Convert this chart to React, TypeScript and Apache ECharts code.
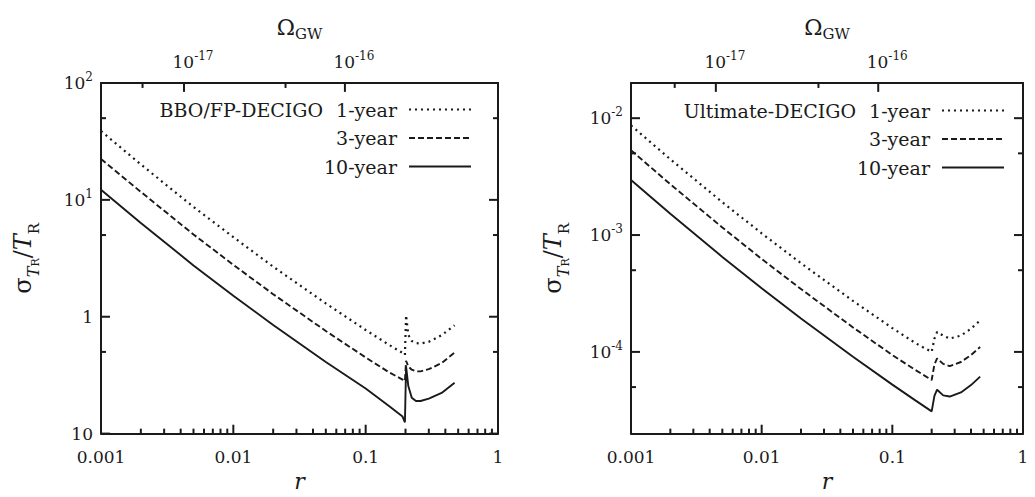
import React, { useEffect, useRef } from "react";
import * as echarts from "echarts";

// ---------- data ----------
const yearNames = ["1-year", "3-year", "10-year"];

// Left panel: BBO/FP-DECIGO
const rLeft = [0.001, 0.002, 0.005, 0.01, 0.02, 0.05, 0.1, 0.15, 0.19, 0.198, 0.202, 0.21, 0.223, 0.24, 0.26, 0.3, 0.375, 0.47];
const bbo1yr = [38.8, 20.1, 8.7, 4.8, 2.68, 1.3, 0.77, 0.575, 0.49, 0.47, 1.03, 0.7, 0.62, 0.595, 0.59, 0.61, 0.695, 0.845];
const bbo3yr = [22.4, 11.7, 5.06, 2.78, 1.56, 0.755, 0.448, 0.335, 0.29, 0.281, 0.42, 0.376, 0.352, 0.341, 0.341, 0.356, 0.401, 0.493];
const bbo10yr = [12.2, 6.35, 2.75, 1.51, 0.85, 0.41, 0.243, 0.172, 0.14, 0.125, 0.376, 0.255, 0.203, 0.19, 0.19, 0.199, 0.223, 0.272];

// Right panel: Ultimate-DECIGO
const rRight = [0.001, 0.002, 0.005, 0.01, 0.02, 0.05, 0.1, 0.15, 0.2, 0.21, 0.22, 0.245, 0.275, 0.335, 0.4, 0.47];
const ult1yr = [8.67e-3, 4.45e-3, 1.91e-3, 1.035e-3, 5.74e-4, 2.73e-4, 1.6e-4, 1.19e-4, 1.0e-4, 1.3e-4, 1.48e-4, 1.38e-4, 1.3e-4, 1.38e-4, 1.58e-4, 1.86e-4];
const ult3yr = [5.32e-3, 2.72e-3, 1.16e-3, 6.25e-4, 3.45e-4, 1.62e-4, 9.4e-5, 7.0e-5, 5.75e-5, 7.8e-5, 8.8e-5, 7.9e-5, 7.55e-5, 8.2e-5, 9.4e-5, 1.1e-4];
const ult10yr = [2.96e-3, 1.52e-3, 6.5e-4, 3.5e-4, 1.93e-4, 9.1e-5, 5.25e-5, 3.85e-5, 3.1e-5, 4.2e-5, 4.75e-5, 4.25e-5, 4.15e-5, 4.5e-5, 5.2e-5, 6.15e-5];

// Axis ticks / labels
const rMajor = [0.001, 0.01, 0.1, 1];
const rMajorLabels = ["0.001", "0.01", "0.1", "1"];
const rRange = [0.001, 1];

const yLeftRange = [0.1, 100];
const yLeftMajor = [0.1, 1, 10, 100];
const yLeftLabels = ["10", "1", "10^1", "10^2"];
const yLeftMinor = [0.5, 5, 50];

const yRightRange = [2e-5, 2e-2];
const yRightMajor = [1e-4, 1e-3, 1e-2];
const yRightLabels = ["10^-4", "10^-3", "10^-2"];
const yRightMinor = [5e-5, 5e-4, 5e-3];

// Omega_GW (top axis) ticks, given as the r value where they fall
const omegaLabels = ["10^-17", "10^-16"];
const omegaMajorLeft = [0.00424, 0.0697];
const omegaMinorLeft = [0.00206, 0.0248];
const omegaMajorRight = [0.00446, 0.078];
const omegaMinorRight = [0.00216, 0.0272];

const panelNames = ["BBO/FP-DECIGO", "Ultimate-DECIGO"];

// ---------- layout & styling ----------
const FONT = "DejaVu Serif";
const INK = "#1a1a1a";
const lg = (v: number) => Math.log10(v);
const MAJOR_LEN = 9; // px
const MINOR_LEN = 5; // px
const GRIDS = [
  { left: 101, top: 83, width: 397, height: 355 },
  { left: 631, top: 83, width: 392, height: 355 },
];

const rMinor: number[] = [];
[0.001, 0.01, 0.1].forEach((d) => {
  for (let k = 2; k <= 9; k++) rMinor.push(k * d);
});

const richNum = {
  b: { fontFamily: FONT, fontSize: 17, color: INK, lineHeight: 24 },
  s: { fontFamily: FONT, fontSize: 12, color: INK, lineHeight: 16, verticalAlign: "top" },
  p: { fontFamily: FONT, fontSize: 17, color: INK, lineHeight: 24 },
};

function fmtPow(text: string, pad = false): string {
  if (text.indexOf("^") < 0) return `{b|${text}}`;
  const [base, exp] = text.split("^");
  return pad ? `{p|${base}}{s|${exp}}` : `{b|${base}}{s|${exp}}`;
}

function lookup(values: number[], labels: string[], v: number, pad = false): string {
  for (let i = 0; i < values.length; i++) {
    if (Math.abs(lg(values[i]) - v) < 1e-6) return fmtPow(labels[i], pad);
  }
  return "";
}

const axisLineStyle = { color: INK, width: 2 };

function baseAxis(extra: any) {
  return {
    type: "value",
    splitLine: { show: false },
    axisTick: { show: false },
    axisLine: { show: true, onZero: false, lineStyle: axisLineStyle },
    ...extra,
  };
}

function tickLine(p: number, a: number[], b: number[]) {
  return {
    type: "line",
    name: "tick",
    xAxisIndex: p * 2,
    yAxisIndex: p * 2,
    symbol: "none",
    showSymbol: false,
    silent: true,
    clip: false,
    z: 5,
    data: [a, b],
    lineStyle: { color: INK, width: 2, type: "solid" },
    itemStyle: { color: INK },
  };
}

function buildPanel(p: number, rDataX: number[], series: number[][], yRange: number[], yMajor: number[], yLabels: string[], yMinor: number[], omMajor: number[], omMinor: number[]) {
  const xr = [lg(rRange[0]), lg(rRange[1])];
  const yr = [lg(yRange[0]), lg(yRange[1])];
  const g = GRIDS[p];
  const pxX = g.width / (xr[1] - xr[0]);
  const pxY = g.height / (yr[1] - yr[0]);
  const xAxes = [
    baseAxis({
      gridIndex: p, position: "bottom", min: xr[0], max: xr[1],
      axisLabel: {
        show: true, margin: 11, customValues: rMajor.map(lg),
        formatter: (v: number) => lookup(rMajor, rMajorLabels, v), rich: richNum,
      },
      name: "r", nameLocation: "middle", nameGap: 34,
      nameTextStyle: { fontFamily: FONT, fontStyle: "italic", fontSize: 22, color: INK },
    }),
    baseAxis({
      gridIndex: p, position: "top", min: xr[0], max: xr[1],
      axisLabel: {
        show: true, margin: 9, customValues: omMajor.map(lg),
        formatter: (v: number) => lookup(omMajor, omegaLabels, v, true),
        rich: { ...richNum, p: { ...richNum.p, padding: [0, 0, 0, 18] } },
      },
      name: "{o|Ω}{g|GW}", nameLocation: "middle", nameGap: 42,
      nameTextStyle: {
        rich: {
          o: { fontFamily: FONT, fontSize: 22, color: INK, lineHeight: 28 },
          g: { fontFamily: FONT, fontSize: 15, color: INK, lineHeight: 16, verticalAlign: "bottom" },
        },
      },
    }),
  ];
  const yAxes = [
    baseAxis({
      gridIndex: p, position: "left", min: yr[0], max: yr[1],
      axisLabel: {
        show: true, margin: 8, customValues: yMajor.map(lg),
        formatter: (v: number) => lookup(yMajor, yLabels, v), rich: richNum,
      },
      name: "{s|σ}{t|T}{u|R}{s|/}{i|T}{v|R}", nameLocation: "middle", nameGap: 60, nameRotate: 90,
      nameTextStyle: {
        rich: {
          s: { fontFamily: FONT, fontSize: 24, color: INK, lineHeight: 36 },
          i: { fontFamily: FONT, fontStyle: "italic", fontSize: 24, color: INK, lineHeight: 36 },
          t: { fontFamily: FONT, fontStyle: "italic", fontSize: 16, color: INK, lineHeight: 18, verticalAlign: "bottom" },
          u: { fontFamily: FONT, fontSize: 11, color: INK, lineHeight: 8, verticalAlign: "bottom" },
          v: { fontFamily: FONT, fontSize: 15, color: INK, lineHeight: 18, verticalAlign: "bottom" },
        },
      },
    }),
    baseAxis({
      gridIndex: p, position: "right", min: yr[0], max: yr[1],
      axisLabel: { show: false },
    }),
  ];

  // tick marks drawn on the frame, inward
  const ticks: any[] = [];
  const addX = (vals: number[], len: number) => vals.forEach((v) => {
    const x = lg(v);
    ticks.push(tickLine(p, [x, yr[0]], [x, yr[0] + len / pxY]));
  });
  const addTop = (vals: number[], len: number) => vals.forEach((v) => {
    const x = lg(v);
    ticks.push(tickLine(p, [x, yr[1]], [x, yr[1] - len / pxY]));
  });
  const addY = (vals: number[], len: number) => vals.forEach((v) => {
    const y = lg(v);
    ticks.push(tickLine(p, [xr[0], y], [xr[0] + len / pxX, y]));
    ticks.push(tickLine(p, [xr[1], y], [xr[1] - len / pxX, y]));
  });
  addX(rMajor, MAJOR_LEN);
  addX(rMinor, MINOR_LEN);
  addTop(omMajor, MAJOR_LEN);
  addTop(omMinor, MINOR_LEN);
  addY(yMajor, MAJOR_LEN);
  addY(yMinor, MINOR_LEN);

  const dash: any[] = [[2, 4], [6, 3], "solid"];
  const seriesList: any[] = series.map((vals, i) => ({
    type: "line",
    name: yearNames[i],
    xAxisIndex: p * 2,
    yAxisIndex: p * 2,
    symbol: "none",
    showSymbol: false,
    clip: true,
    data: rDataX.map((r, j) => [lg(r), lg(vals[j])]),
    lineStyle: { color: INK, width: i === 0 ? 2.2 : 1.9, type: dash[i] },
    itemStyle: { color: INK },
  }));
  return { xAxes, yAxes, seriesList: [...seriesList, ...ticks] };
}

function makeLegend(p: number, right: number, top: number) {
  return {
    data: yearNames,
    orient: "vertical",
    align: "right",
    right,
    top,
    padding: 0,
    itemWidth: 62,
    itemHeight: 14,
    itemGap: 9.5,
    selectedMode: false,
    itemStyle: { opacity: 0 },
    formatter: (n: string) => (n === "1-year" ? `{n|${panelNames[p]}}{a|${n}}` : `{a|${n}}`),
    textStyle: {
      rich: {
        n: { fontFamily: FONT, fontSize: 19, color: INK, lineHeight: 20, padding: [0, 13, 0, 0] },
        a: { fontFamily: FONT, fontSize: 19, color: INK, lineHeight: 20, padding: [0, 7, 0, 0] },
      },
    },
  };
}

export default function App() {
  const ref = useRef<HTMLDivElement>(null);
  useEffect(() => {
    if (!ref.current) return;
    const chart = echarts.init(ref.current, undefined, { renderer: "svg" });
    const L = buildPanel(0, rLeft, [bbo1yr, bbo3yr, bbo10yr], yLeftRange, yLeftMajor, yLeftLabels, yLeftMinor, omegaMajorLeft, omegaMinorLeft);
    const R = buildPanel(1, rRight, [ult1yr, ult3yr, ult10yr], yRightRange, yRightMajor, yRightLabels, yRightMinor, omegaMajorRight, omegaMinorRight);
    chart.setOption({
      animation: false,
      backgroundColor: "#ffffff",
      textStyle: { fontFamily: FONT },
      grid: GRIDS.map((g) => ({ ...g, containLabel: false })),
      xAxis: [...L.xAxes, ...R.xAxes],
      yAxis: [...L.yAxes, ...R.yAxes],
      legend: [makeLegend(0, 563, 100), makeLegend(1, 30, 101)],
      series: [...L.seriesList, ...R.seriesList],
    });
    return () => chart.dispose();
  }, []);
  return <div ref={ref} style={{ position: "fixed", left: 0, top: 0, width: 1035, height: 497 }} />;
}
